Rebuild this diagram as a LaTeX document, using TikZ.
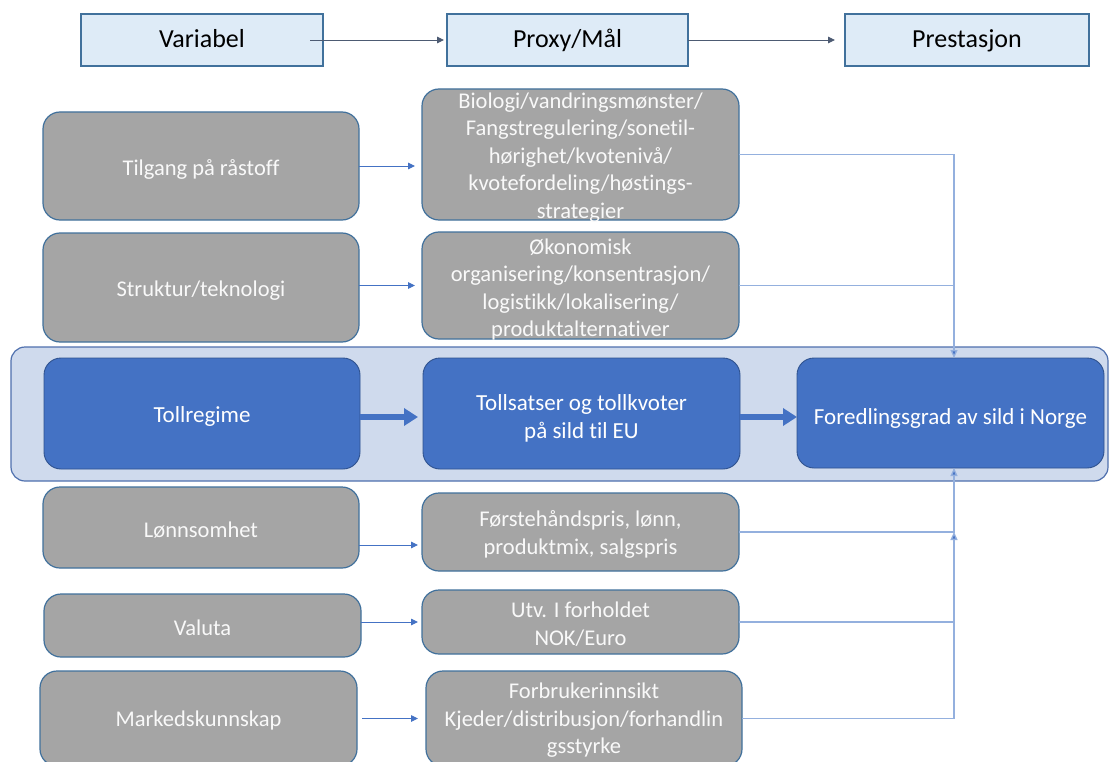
\documentclass[tikz,border=0pt]{standalone}
\usepackage{fontspec}
\setmainfont{Carlito}[Ligatures={NoCommon}]
\usetikzlibrary{arrows.meta}
\definecolor{grayfill}{HTML}{A5A5A5}
\definecolor{grayline}{HTML}{41719C}
\definecolor{bluefill}{HTML}{4472C4}
\definecolor{blueline}{HTML}{2F528F}
\definecolor{contfill}{HTML}{CFDAED}
\definecolor{contline}{HTML}{4F70AE}
\definecolor{hdrfill}{HTML}{DEEBF7}
\definecolor{hdrline}{HTML}{41719C}
\definecolor{connline}{HTML}{94B0DE}
\definecolor{hdrarrow}{HTML}{4D5B73}
\newcommand{\boxtxt}[2][3pt]{\raisebox{\dimexpr-#1-0.25em\relax}[0pt][0pt]{$\vcenter{\hbox{\begin{tabular}{@{}c@{}}#2\end{tabular}}}$}}
\tikzset{
  base/.style={inner sep=0pt, outer sep=0pt, align=center},
  hdrbox/.style={base, draw=hdrline, fill=hdrfill, line width=1.1pt, font=\fontsize{26}{31}\selectfont, text=black, text height=20pt, text depth=4pt},
  graybox/.style={base, draw=grayline, fill=grayfill, line width=1.2pt, rounded corners=17pt, font=\fontsize{22.5}{27.5}\selectfont, text=white!95!gray},
  bluebox/.style={base, draw=blueline, fill=bluefill, line width=0.9pt, rounded corners=17pt, font=\fontsize{23}{28}\selectfont, text=white},
  contbox/.style={base, draw=contline, fill=contfill, line width=1.2pt, rounded corners=14pt},
  smallarr/.style={draw=bluefill, line width=0.9pt, -{Triangle[width=6.5pt,length=7pt]}},
  hdrarr/.style={draw=hdrarrow, line width=0.9pt, -{Triangle[width=6.5pt,length=7pt]}},
  thickarr/.style={draw=bluefill, line width=6pt, -{Triangle[width=17pt,length=14pt]}},
  conn/.style={draw=connline, line width=1.3pt},
  connarr/.style={conn, -{Triangle[width=7pt,length=8pt,fill=bluefill]}},
}
\begin{document}
\begin{tikzpicture}[x=1pt,y=-1pt]
\useasboundingbox[fill=white] (0,0) rectangle (1110,762);
% header row
\node[hdrbox, minimum width=242pt, minimum height=52pt] (h1) at (202,40) {Variabel};
\node[hdrbox, minimum width=241pt, minimum height=52pt] (h2) at (567.5,40) {Proxy/Mål};
\node[hdrbox, minimum width=244pt, minimum height=52pt] (h3) at (967,40) {Prestasjon};
\draw[hdrarr] ([xshift=-13pt]h1.east) -- ([xshift=-3pt]h2.west);
\draw[hdrarr] (h2.east) -- ([xshift=-10pt]h3.west);
% container
\node[contbox, minimum width=1097pt, minimum height=134pt] (cont) at (559.5,414) {};
% left column
\node[graybox, minimum width=316pt, minimum height=108pt] (tilg) at (201,166) {\boxtxt[3.5pt]{Tilgang på råstoff}};
\node[graybox, minimum width=316pt, minimum height=109pt] (strk) at (201,287.5) {\boxtxt{Struktur/teknologi}};
\node[bluebox, minimum width=316pt, minimum height=111pt] (toll) at (202,413.5) {\boxtxt[4pt]{Tollregime}};
\node[graybox, minimum width=316pt, minimum height=81pt] (lonn) at (201,527.5) {\boxtxt[4pt]{Lønnsomhet}};
\node[graybox, minimum width=317pt, minimum height=63pt] (val) at (202.5,625.5) {\boxtxt[4pt]{Valuta}};
\node[graybox, minimum width=317pt, minimum height=95pt] (mark) at (198.5,718.5) {\boxtxt[2pt]{Markedskunnskap}};
% middle column
\node[graybox, minimum width=317pt, minimum height=131pt] (bio) at (580.5,154.5) {\boxtxt{Biologi/vandringsmønster/\\Fangstregulering/sonetil-\\hørighet/kvotenivå/\\kvotefordeling/høstings-\\strategier}};
\node[graybox, minimum width=317pt, minimum height=107pt] (oko) at (580.5,285.5) {\boxtxt[4pt]{Økonomisk\\organisering/konsentrasjon/\\logistikk/lokalisering/\\produktalternativer}};
\node[bluebox, minimum width=317pt, minimum height=111pt] (tsats) at (581.5,413.5) {\boxtxt[6pt]{Tollsatser og tollkvoter\\på sild til EU}};
\node[graybox, minimum width=317pt, minimum height=78pt] (forst) at (580.5,532) {\boxtxt[2.5pt]{Førstehåndspris, lønn,\\produktmix, salgspris}};
\node[graybox, minimum width=317pt, minimum height=64pt] (utv) at (580.5,622) {\boxtxt[3.5pt]{Utv. I forholdet\\NOK/Euro}};
\node[graybox, minimum width=316pt, minimum height=95pt] (fbr) at (584,718.5) {\boxtxt[2pt]{Forbrukerinnsikt\\Kjeder/distribusjon/forhandlin\\gsstyrke}};
% right
\node[bluebox, minimum width=307pt, minimum height=110pt] (fored) at (950.5,413) {\boxtxt[6pt]{Foredlingsgrad av sild i Norge}};
% left-to-middle arrows
\draw[smallarr, shorten >=7pt] (tilg.east) -- (tilg.east -| bio.west);
\draw[smallarr, shorten >=7pt] (strk.east |- oko.west) -- (oko.west);
\draw[thickarr, shorten >=5pt] (toll.east |- 0,417) -- (tsats.west |- 0,417);
\draw[smallarr, shorten >=4pt] ([yshift=-17.5pt]lonn.east) -- ([yshift=-17.5pt]lonn.east -| forst.west);
\draw[smallarr, shorten >=4pt] (val.east |- utv.west) -- (utv.west);
\draw[smallarr, shorten <=5pt, shorten >=8pt] (mark.east) -- (mark.east -| fbr.west);
\draw[thickarr, shorten >=0pt] (tsats.east |- 0,417) -- (fored.west |- 0,417);
% right-hand connectors
\coordinate (trunk) at (954,0);
\draw[connarr] (bio.east) -- (bio.east -| trunk) -- (trunk |- fored.north);
\draw[conn] (oko.east) -- (oko.east -| trunk);
\draw[connarr] (forst.east) -- (forst.east -| trunk) -- (trunk |- fored.south);
\draw[conn] (utv.east) -- (utv.east -| trunk);
\draw[connarr] (fbr.east) -- (fbr.east -| trunk) -- (trunk |- forst.east);
\end{tikzpicture}
\end{document}
